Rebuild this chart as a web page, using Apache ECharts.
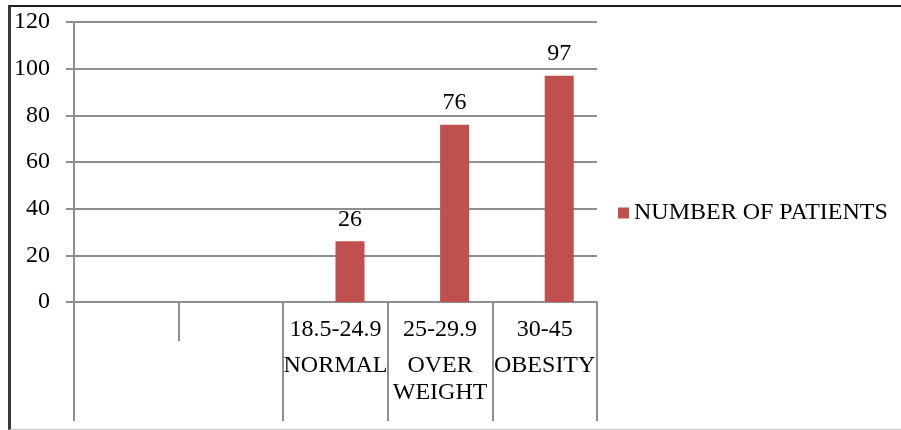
<!DOCTYPE html>
<html>
<head>
<meta charset="utf-8">
<script src="https://cdn.jsdelivr.net/npm/echarts@6/dist/echarts.min.js"></script>
<style>
  html, body { margin: 0; padding: 0; background: #fff; }
  #wrap { position: relative; width: 901px; height: 430px; overflow: hidden; }
  #chart { position: absolute; left: 0; top: 0; width: 901px; height: 430px; }
  #frame { position: absolute; left: 8px; top: 5px; right: -2px; bottom: 0px;
           border-left: 3px solid #3a3a3a; border-top: 2px solid #1e1e1e;
           border-bottom: 1px solid #c4c4c4; pointer-events: none; }
</style>
</head>
<body>
<div id="wrap">
  <div id="chart"></div>
  <div id="frame"></div>
</div>
<script>
// ---- data ----
const ranges = ['', '', '18.5-24.9', '25-29.9', '30-45'];
const classes = ['', '', 'NORMAL', 'OVER WEIGHT', 'OBESITY'];
const patients = [null, null, 26, 76, 97];
const spacer = [null, null, null, null, null];
const seriesName = 'NUMBER OF PATIENTS';
const yMin = 0, yMax = 120, yStep = 20;

const categories = ranges.map((r, i) => r === '' ? '' : r + '|' + classes[i]);

const FONT = "'Liberation Serif', 'Times New Roman', serif";
const GRAY = '#8e8e8e';

const chart = echarts.init(document.getElementById('chart'), null, { renderer: 'canvas' });
chart.setOption({
  animation: false,
  backgroundColor: '#fff',
  grid: { left: 74, right: 304, top: 22, bottom: 128, containLabel: false },
  legend: {
    data: [seriesName],
    left: 613, top: 196,
    icon: 'rect', itemWidth: 11, itemHeight: 11,
    textStyle: { fontFamily: FONT, fontSize: 24, color: '#000' }
  },
  xAxis: [
    {
      type: 'category', data: categories, position: 'bottom',
      axisLine: { show: true, lineStyle: { color: GRAY, width: 2 } },
      axisTick: { show: true, interval: 0, length: 39, lineStyle: { color: GRAY, width: 2 } },
      axisLabel: {
        interval: 0, margin: 5,
        formatter: function (v) {
          if (!v) return '';
          const parts = v.split('|');
          const lines = parts[1].split(' ');
          return '{a|' + parts[0] + '}\n' + lines.map(l => '{b|' + l + '}').join('\n');
        },
        rich: {
          a: { fontFamily: FONT, fontSize: 24, color: '#000', lineHeight: 45 },
          b: { fontFamily: FONT, fontSize: 24, color: '#000', lineHeight: 27 }
        }
      },
      splitLine: { show: false }
    },
    {
      type: 'category', data: categories, position: 'bottom', offset: 0,
      axisLine: { show: false },
      axisTick: { show: true, length: 119, lineStyle: { color: GRAY, width: 2 },
        interval: function (idx) { return idx !== 1; } },
      axisLabel: { show: false },
      splitLine: { show: false }
    }
  ],
  yAxis: {
    type: 'value', min: yMin, max: yMax, interval: yStep,
    axisLine: { show: true, lineStyle: { color: GRAY, width: 2 } },
    axisTick: { show: true, length: 8, lineStyle: { color: GRAY, width: 2 } },
    axisLabel: { margin: 24, fontFamily: FONT, fontSize: 24, color: '#000' },
    splitLine: { show: true, lineStyle: { color: GRAY, width: 2 } }
  },
  series: [
    {
      name: 'spacer', type: 'bar', data: spacer, barWidth: 29, barGap: '0%',
      itemStyle: { color: '#4f81bd' }
    },
    {
      name: seriesName, type: 'bar', data: patients, barWidth: 29, barGap: '0%',
      itemStyle: { color: '#c0504d' },
      label: { show: true, position: 'top', distance: 10,
        fontFamily: FONT, fontSize: 24, color: '#000' }
    }
  ]
});
</script>
</body>
</html>
